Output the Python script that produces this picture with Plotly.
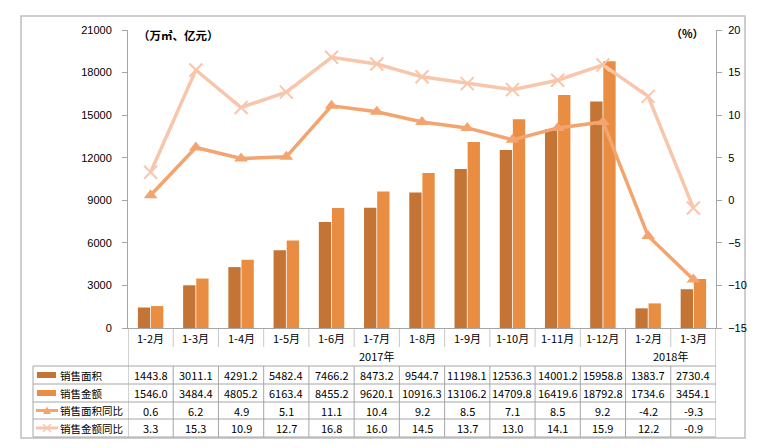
import plotly.graph_objects as go

categories = ["1-2月", "1-3月", "1-4月", "1-5月", "1-6月", "1-7月", "1-8月", "1-9月",
              "1-10月", "1-11月", "1-12月", "1-2月", "1-3月"]
year_labels = ["2017年", "2018年"]
year_spans = [(0, 10), (11, 12)]
area = [1443.8, 3011.1, 4291.2, 5482.4, 7466.2, 8473.2, 9544.7, 11198.1, 12536.3, 14001.2, 15958.8, 1383.7, 2730.4]
amount = [1546.0, 3484.4, 4805.2, 6163.4, 8455.2, 9620.1, 10916.3, 13106.2, 14709.8, 16419.6, 18792.8, 1734.6, 3454.1]
area_yoy = [0.6, 6.2, 4.9, 5.1, 11.1, 10.4, 9.2, 8.5, 7.1, 8.5, 9.2, -4.2, -9.3]
amount_yoy = [3.3, 15.3, 10.9, 12.7, 16.8, 16.0, 14.5, 13.7, 13.0, 14.1, 15.9, 12.2, -0.9]
series_names = ["销售面积", "销售金额", "销售面积同比", "销售金额同比"]
left_ticks = [0, 3000, 6000, 9000, 12000, 15000, 18000, 21000]
right_ticks = [-15, -10, -5, 0, 5, 10, 15, 20]

W, H = 764, 448
C_AREA = "#C47535"
C_AMT = "#E98D42"
C_AYOY = "#F4A46E"
C_MYOY = "#F8C6AA"
GRID = "#A6A6A6"
FONT = "Noto Sans CJK SC"

x = list(range(len(categories)))


def py(p):
    return 1 - p / H


def px(p):
    return p / W


fig = go.Figure()
fig.add_trace(go.Bar(x=x, y=area, name=series_names[0], marker=dict(color=C_AREA, line=dict(width=0))))
fig.add_trace(go.Bar(x=x, y=amount, name=series_names[1], marker=dict(color=C_AMT, line=dict(width=0))))
fig.add_trace(go.Scatter(x=x, y=area_yoy, name=series_names[2], yaxis="y2", mode="lines+markers",
                         line=dict(color=C_AYOY, width=3.5),
                         marker=dict(symbol="triangle-up", size=12, color=C_AYOY)))
fig.add_trace(go.Scatter(x=x, y=amount_yoy, name=series_names[3], yaxis="y2", mode="lines+markers",
                         line=dict(color=C_MYOY, width=3.5),
                         marker=dict(symbol="x-thin", size=13, color=C_MYOY, line=dict(width=2, color=C_MYOY))))

shapes = []
annotations = []


def hline(y, x0p, x1p, color=GRID, width=1):
    shapes.append(dict(type="line", xref="paper", yref="paper", x0=px(x0p), x1=px(x1p),
                       y0=py(y), y1=py(y), line=dict(color=color, width=width)))


def vline_data(xd, y0, y1, color=GRID, width=1):
    shapes.append(dict(type="line", xref="x", yref="paper", x0=xd, x1=xd,
                       y0=py(y0), y1=py(y1), line=dict(color=color, width=width)))


def text(xv, yv, s, xref="x", xanchor="center", size=11):
    annotations.append(dict(x=xv, y=yv, xref=xref, yref="paper", text=s, showarrow=False,
                            xanchor=xanchor, yanchor="middle",
                            font=dict(family=FONT, size=size, color="#000")))


# outer border
shapes.append(dict(type="rect", xref="paper", yref="paper", x0=px(21), x1=px(745), y0=py(438), y1=py(16),
                   line=dict(color="#BFBFBF", width=1.5), fillcolor="rgba(0,0,0,0)", layer="below"))

row_lines = [366, 384, 402, 419, 437]
for r in row_lines:
    hline(r, 33, 716)
# left column border
shapes.append(dict(type="line", xref="paper", yref="paper", x0=px(33), x1=px(33), y0=py(366), y1=py(437),
                   line=dict(color=GRID, width=1)))
# table outer verticals
vline_data(-0.5, 328, 437)
vline_data(len(categories) - 0.5, 328, 437)
# category separators
for i in range(1, len(categories)):
    xd = i - 0.5
    if i == 11:
        vline_data(xd, 328, 437)
    else:
        vline_data(xd, 329, 347, color="#C8C8C8")
        vline_data(xd, 366, 437)

# category labels
for i, c in enumerate(categories):
    text(i, py(338), c)
for lab, (a, b) in zip(year_labels, year_spans):
    text((a + b) / 2, py(356), lab)

rows = [area, amount, area_yoy, amount_yoy]
row_centers = [(row_lines[k] + row_lines[k + 1]) / 2 for k in range(4)]
for vals, yc in zip(rows, row_centers):
    for i, v in enumerate(vals):
        text(i, py(yc), f"{v:.1f}")

# row labels & legend symbols
for name, yc in zip(series_names, row_centers):
    text(px(58), py(yc), name, xref="paper", xanchor="left", size=10.5)
# bar symbols
for col, yc in zip([C_AREA, C_AMT], row_centers[:2]):
    shapes.append(dict(type="rect", xref="paper", yref="paper", x0=px(37), x1=px(56),
                       y0=py(yc + 3), y1=py(yc - 3), line=dict(width=0), fillcolor=col))
# line symbols
for col, yc in zip([C_AYOY, C_MYOY], row_centers[2:]):
    shapes.append(dict(type="line", xref="paper", yref="paper", x0=px(36), x1=px(58),
                       y0=py(yc), y1=py(yc), line=dict(color=col, width=3)))
yc = row_centers[2]
shapes.append(dict(type="path", xref="paper", yref="paper",
                   path=f"M {px(43)} {py(yc + 3.5)} L {px(51)} {py(yc + 3.5)} L {px(47)} {py(yc - 4)} Z",
                   fillcolor=C_AYOY, line=dict(width=0)))
yc = row_centers[3]
for (a0, b0, a1, b1) in [(43, yc - 4, 51, yc + 4), (43, yc + 4, 51, yc - 4)]:
    shapes.append(dict(type="line", xref="paper", yref="paper", x0=px(a0), x1=px(a1), y0=py(b0), y1=py(b1),
                       line=dict(color=C_MYOY, width=1.5)))

# unit labels
text(px(136), py(35), "<b>（万㎡、亿元）</b>", xref="paper", xanchor="left", size=11.5)
text(px(706), py(33), "<b>（%）</b>", xref="paper", xanchor="right", size=11)

fig.update_layout(
    width=W, height=H, margin=dict(l=0, r=0, t=0, b=0, autoexpand=False),
    paper_bgcolor="white", plot_bgcolor="white",
    showlegend=False, barmode="group", bargap=0.42, bargroupgap=0.06,
    font=dict(family=FONT, size=11, color="#000"),
    xaxis=dict(domain=[px(128), px(716)], range=[-0.5, len(categories) - 0.5], showticklabels=False,
               showgrid=False, zeroline=False, showline=True, linecolor=GRID, linewidth=1, ticks="",
               automargin=False),
    yaxis=dict(domain=[py(328), py(30)], range=[0, 21000], tickvals=left_ticks, tickformat="d",
               showgrid=False, zeroline=False, showline=True, linecolor=GRID, linewidth=1,
               ticks="outside", ticklen=5, tickcolor=GRID, ticklabelstandoff=8, automargin=False,
               tickfont=dict(family="Liberation Sans", size=11, color="#000")),
    yaxis2=dict(overlaying="y", side="right", anchor="x", range=[-15, 20], tickvals=right_ticks,
                showgrid=False, zeroline=False, showline=True, linecolor=GRID, linewidth=1,
                ticks="outside", ticklen=5, tickcolor=GRID, ticklabelstandoff=4, automargin=False,
                tickfont=dict(family="Liberation Sans", size=11, color="#000")),
    shapes=shapes, annotations=annotations,
)

fig.write_html("out.html", config={"displayModeBar": False},
               post_script="document.body.style.margin='0';document.body.style.overflow='hidden';")
